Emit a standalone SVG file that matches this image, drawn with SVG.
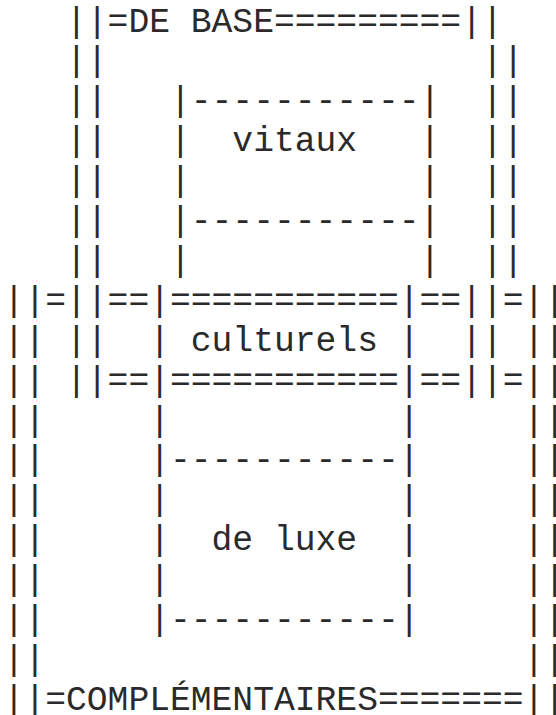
<svg xmlns="http://www.w3.org/2000/svg" width="556" height="715" viewBox="0 0 556 715">
<style>
text{font-family:"Liberation Mono","Courier New",monospace;font-size:34.67px;fill:#2a2a2a;white-space:pre}
</style>
<rect width="556" height="715" fill="#fff"/>
<g id="art" xml:space="preserve">
<text x="3.6" y="31.5">   ||=DE BASE=========||</text>
<text x="3.6" y="71.4">   ||                  ||</text>
<text x="3.6" y="111.3">   ||   |-----------|  ||</text>
<text x="3.6" y="151.2">   ||   |  vitaux   |  ||</text>
<text x="3.6" y="191.1">   ||   |           |  ||</text>
<text x="3.6" y="231.0">   ||   |-----------|  ||</text>
<text x="3.6" y="270.9">   ||   |           |  ||</text>
<text x="3.6" y="310.8">||=||==|===========|==||=||</text>
<text x="3.6" y="350.7">|| ||  | culturels |  || ||</text>
<text x="3.6" y="390.6">|| ||==|===========|==||=||</text>
<text x="3.6" y="430.5">||     |           |     ||</text>
<text x="3.6" y="470.4">||     |-----------|     ||</text>
<text x="3.6" y="510.3">||     |           |     ||</text>
<text x="3.6" y="550.2">||     |  de luxe  |     ||</text>
<text x="3.6" y="590.1">||     |           |     ||</text>
<text x="3.6" y="630.0">||     |-----------|     ||</text>
<text x="3.6" y="669.9">||                       ||</text>
<text x="3.6" y="709.8">||=COMPLÉMENTAIRES=======||</text>
</g>
</svg>
